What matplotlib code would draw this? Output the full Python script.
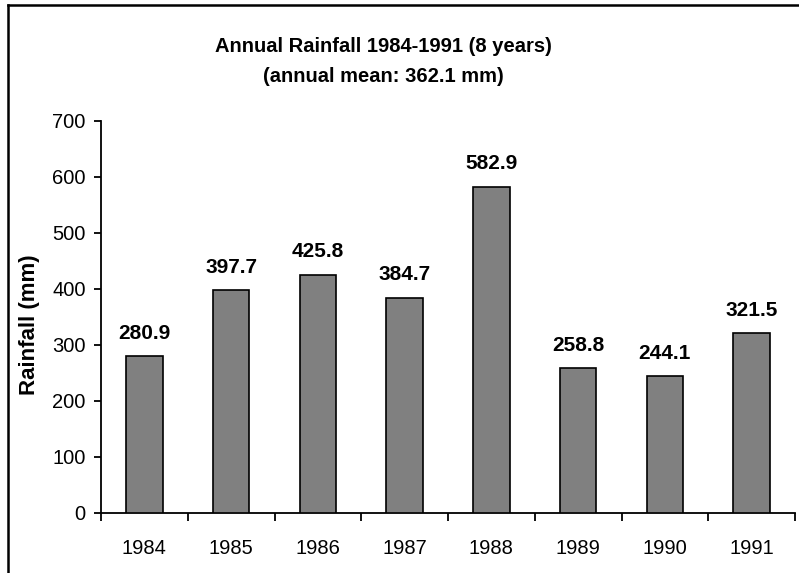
import matplotlib
matplotlib.use("Agg")
import matplotlib.pyplot as plt
from matplotlib.lines import Line2D

years = ["1984", "1985", "1986", "1987", "1988", "1989", "1990", "1991"]
rainfall = [280.9, 397.7, 425.8, 384.7, 582.9, 258.8, 244.1, 321.5]
yticks = [0, 100, 200, 300, 400, 500, 600, 700]

plt.rcParams['font.family'] = ['Liberation Sans', 'DejaVu Sans']

fig = plt.figure(figsize=(7.99, 5.73), dpi=100)
ax = fig.add_axes([101/799, 60/573, (795-101)/799, (513-121)/573])

x = list(range(len(years)))
ax.bar(x, rainfall, width=0.42, color='#808080', edgecolor='black', linewidth=1.2, zorder=3)

for xi, v in zip(x, rainfall):
    ax.annotate(f"{v:.1f}", (xi, v), xytext=(0, 9.5), textcoords='offset points',
                ha='center', va='bottom', fontsize=15, fontweight='bold')

ax.set_xlim(-0.5, len(years) - 0.5)
ax.set_ylim(0, 700)
ax.set_yticks(yticks)
ax.set_yticklabels([str(t) for t in yticks])
ax.set_xticks([i - 0.5 for i in range(len(years) + 1)])
ax.set_xticklabels([])
ax.set_xticks(x, minor=True)
ax.set_xticklabels(years, minor=True)
ax.tick_params(axis='x', which='major', direction='out', length=5.5, width=1.3)
ax.tick_params(axis='x', which='minor', length=0, pad=19, labelsize=14.5)
ax.tick_params(axis='y', direction='out', length=5, width=1.3, pad=6, labelsize=14.5)

for s in ['top', 'right']:
    ax.spines[s].set_visible(False)
for s in ['left', 'bottom']:
    ax.spines[s].set_linewidth(1.3)

ax.set_ylabel("Rainfall (mm)", fontsize=16, fontweight='bold', va='center')
ax.yaxis.set_label_coords((29 - 101) / 694, (513 - 325) / 392)

fig.text(383/799, 1 - 47/573, "Annual Rainfall 1984-1991 (8 years)", ha='center', va='center',
         fontsize=14.5, fontweight='bold')
fig.text(383/799, 1 - 76/573, "(annual mean: 362.1 mm)", ha='center', va='center',
         fontsize=14.5, fontweight='bold')

# partial figure frame (top and left edges)
fig.add_artist(Line2D([8/799, 1.0], [1 - 5/573, 1 - 5/573], transform=fig.transFigure,
                      color='black', linewidth=1.8))
fig.add_artist(Line2D([8/799, 8/799], [0, 1 - 5/573], transform=fig.transFigure,
                      color='black', linewidth=1.8))

fig.savefig("out.png", dpi=100)
